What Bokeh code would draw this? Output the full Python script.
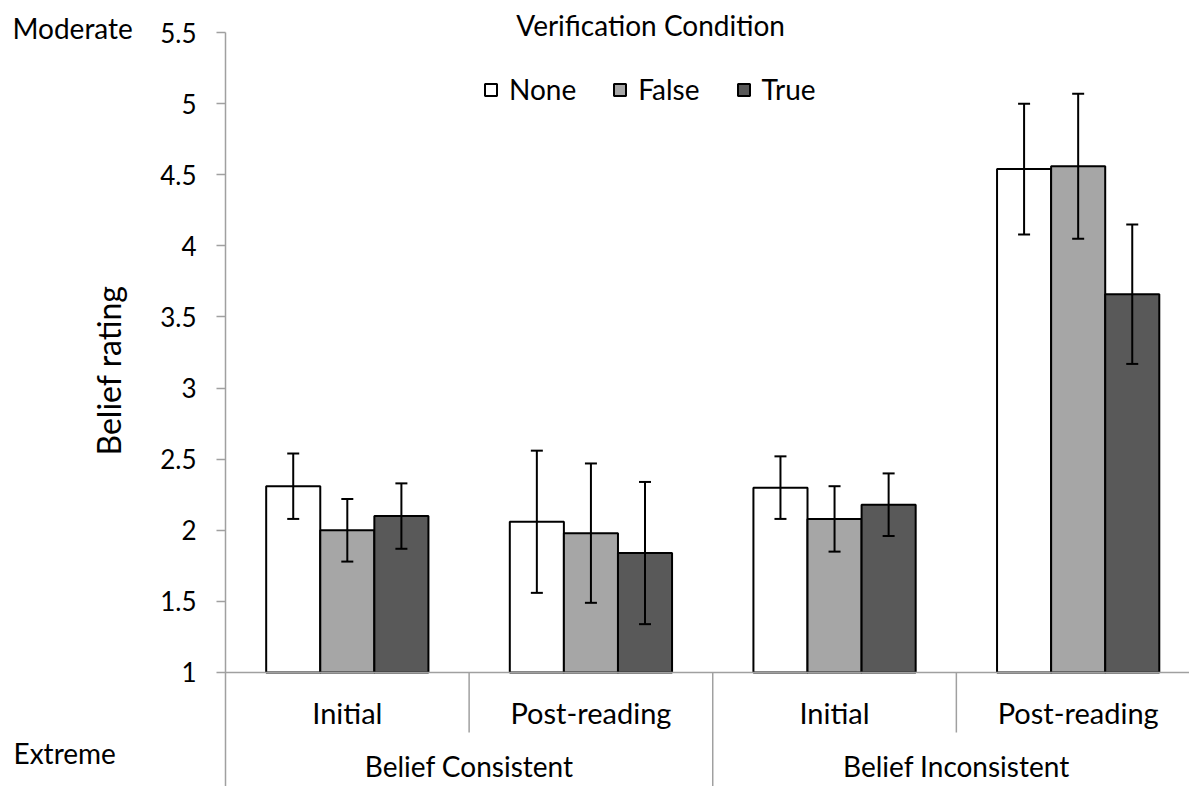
import math
from bokeh.plotting import figure
from bokeh.layouts import row
from bokeh.models import (ColumnDataSource, Range1d, FixedTicker, Whisker, TeeHead,
                          Legend, LegendItem, Label, Span)
from bokeh.embed import file_html
from bokeh.resources import INLINE
from bokeh.core.properties import value

# ---------------- data ----------------
groups = ["Belief Consistent", "Belief Inconsistent"]
phases = ["Initial", "Post-reading", "Initial", "Post-reading"]
series = ["None", "False", "True"]
none_mean = [2.31, 2.06, 2.30, 4.54]
none_err = [0.23, 0.50, 0.22, 0.46]
false_mean = [2.00, 1.98, 2.08, 4.56]
false_err = [0.22, 0.49, 0.23, 0.51]
true_mean = [2.10, 1.84, 2.18, 3.66]
true_err = [0.23, 0.50, 0.22, 0.49]
y_ticks = [1, 1.5, 2, 2.5, 3, 3.5, 4, 4.5, 5, 5.5]
y_tick_labels = ["1", "1.5", "2", "2.5", "3", "3.5", "4", "4.5", "5", "5.5"]
legend_title = "Verification Condition"
y_title = "Belief rating"
top_anchor = "Moderate"
bottom_anchor = "Extreme"

# ---------------- style ----------------
colors = ["#ffffff", "#a6a6a6", "#595959"]
FONT = "Lato"
AXIS_GRAY = "#a0a0a0"
BAR_W = 0.222            # width of one bar, in sub-category units
Y0, Y1 = 0.1983, 5.7257  # visible y range (includes label band under the axis)
X1 = 3.957
LEFT_W = 150             # width of the side strip holding the outer texts
H = 786

yr = Range1d(Y0, Y1)

# side strip with the outer texts (Moderate / Belief rating / Extreme)
side = figure(width=LEFT_W, height=H, x_range=Range1d(0, LEFT_W), y_range=yr,
              output_backend="svg", toolbar_location=None, x_axis_type=None,
              y_axis_type=None, min_border=0, outline_line_color=None)
side.grid.visible = False
side.text(x=[12, 13], y=[5.529, 0.4304], text=[top_anchor, bottom_anchor],
          text_font=value(FONT), text_font_size="28px", text_align="left",
          text_baseline="middle", text_color="black")
side.text(x=[108], y=[3.124], text=[y_title], angle=math.pi / 2,
          text_font=value(FONT), text_font_size="32px", text_align="center",
          text_baseline="middle", text_color="black")

# main chart
p = figure(width=1189 - LEFT_W, height=H, x_range=Range1d(0, X1), y_range=yr,
           output_backend="svg", toolbar_location=None, x_axis_type=None,
           min_border_left=225 - LEFT_W, min_border_right=0, min_border_top=0,
           min_border_bottom=0, outline_line_color=None,
           background_fill_color="white", border_fill_color="white")
p.grid.visible = False

ya = p.yaxis[0]
ya.ticker = FixedTicker(ticks=y_ticks)
ya.major_label_overrides = {float(t): l for t, l in zip(y_ticks, y_tick_labels)}
ya.bounds = (Y0, max(y_ticks))
ya.axis_line_color = AXIS_GRAY
ya.axis_line_width = 1.5
ya.major_tick_line_color = AXIS_GRAY
ya.major_tick_line_width = 1.5
ya.major_tick_out = 9
ya.major_tick_in = 0
ya.minor_tick_line_color = None
ya.major_label_text_font = FONT
ya.major_label_text_font_size = "26px"
ya.major_label_text_color = "black"
ya.major_label_standoff = 20

base = min(y_ticks)

# bars + error bars
series_data = [(none_mean, none_err), (false_mean, false_err), (true_mean, true_err)]
items = []
for j, (name, (m, e), c) in enumerate(zip(series, series_data, colors)):
    xs = [i + 0.5 + (j - 1) * BAR_W for i in range(len(phases))]
    src = ColumnDataSource(dict(x=xs, top=m, upper=[a + b for a, b in zip(m, e)],
                                lower=[a - b for a, b in zip(m, e)]))
    r = p.vbar(x="x", top="top", bottom=base, width=BAR_W, source=src,
               fill_color=c, line_color="black", line_width=2)
    items.append(LegendItem(label=name, renderers=[r]))
    w = Whisker(source=src, base="x", upper="upper", lower="lower",
                line_color="black", line_width=2, level="annotation",
                upper_head=TeeHead(size=12, line_width=2, line_color="black"),
                lower_head=TeeHead(size=12, line_width=2, line_color="black"))
    p.add_layout(w)

# horizontal axis line at the base
p.add_layout(Span(location=base, dimension="width", line_color=AXIS_GRAY, line_width=1.5))

# category separators under the axis
n = len(phases)
bx = list(range(1, n + 1))
ends = [Y0 if k % 2 == 0 else 0.578 for k in bx]
p.segment(x0=bx, y0=[base] * n, x1=bx, y1=ends, line_color=AXIS_GRAY, line_width=1.5)

# category labels
p.text(x=[i + 0.5 for i in range(n)], y=[0.719] * n, text=phases,
       text_font=value(FONT), text_font_size="29px", text_align="center",
       text_baseline="middle", text_color="black")
p.text(x=[2 * g + 1 for g in range(len(groups))], y=[0.345] * len(groups), text=groups,
       text_font=value(FONT), text_font_size="28px", text_align="center",
       text_baseline="middle", text_color="black")

# legend
leg = Legend(items=items, orientation="horizontal", location=(258, 680),
             glyph_width=15, glyph_height=15, label_standoff=11, spacing=36,
             label_text_font=FONT, label_text_font_size="28px", label_text_color="black",
             padding=0, margin=0, border_line_color=None, background_fill_alpha=0)
p.add_layout(leg)

p.add_layout(Label(x=1.745, y=5.55, text=legend_title, text_font=FONT,
                   text_font_size="28px", text_align="center", text_baseline="middle",
                   text_color="black"))

open("out.html", "w").write(file_html(row(side, p), INLINE))
